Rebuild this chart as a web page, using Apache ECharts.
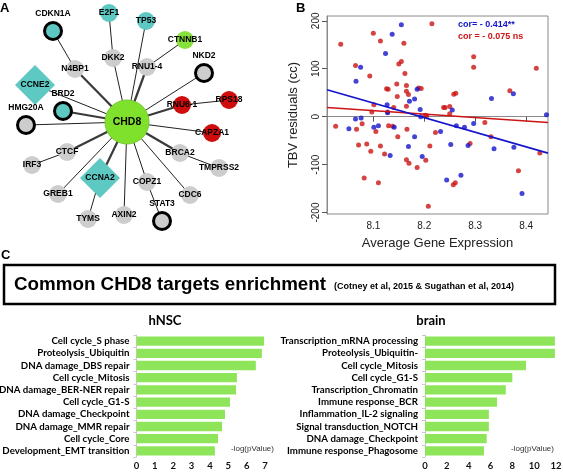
<!DOCTYPE html>
<html><head><meta charset="utf-8">
<script src="https://cdn.jsdelivr.net/npm/echarts@6/dist/echarts.min.js"></script>
<style>html,body{margin:0;padding:0;background:#fff}#c{width:563px;height:472px}</style>
</head><body><div id="c"></div><script>
// ---------- Panel A: network ----------
const geneNames = ['CHD8','CDKN1A','E2F1','TP53','CTNNB1','N4BP1','DKK2','RNU1-4','NKD2','CCNE2','BRD2','HMG20A','RNU6-1','RPS18','CAPZA1','IRF3','CTCF','GREB1','CCNA2','TYMS','AXIN2','COPZ1','CDC6','BRCA2','TMPRSS2','STAT3'];
const geneX = [127,53,109,146,185,75,113,147,204,35,63,26,182,229,212,32,67,58,100,88,124,147,190,180,219,162];
const geneY = [122,31,13,21,40,69,58,67,73,85,111,125,105,100,133,165,152,194,178,219,215,182,195,153,168,221];
const geneType = ['hub','tealRing','teal','teal','green','grey','grey','grey','greyRing','tealDiamond','tealRing','greyRing','red','red','red','grey','grey','grey','tealDiamond','grey','grey','grey','grey','grey','grey','greyRing'];
const edgeFrom = ['CHD8','N4BP1','CHD8','DKK2','CHD8','CHD8','RNU1-4','CHD8','CHD8','RNU6-1','CHD8','CHD8','CHD8','CHD8','CHD8','CTCF','CHD8','CHD8','CCNA2','CHD8','CHD8','COPZ1','CHD8','CHD8','BRCA2'];
const edgeTo   = ['N4BP1','CDKN1A','DKK2','E2F1','TP53','RNU1-4','CTNNB1','NKD2','RNU6-1','RPS18','CAPZA1','CCNE2','BRD2','HMG20A','CTCF','IRF3','GREB1','CCNA2','TYMS','AXIN2','COPZ1','STAT3','CDC6','BRCA2','TMPRSS2'];
const edgeMult = [2,1,1,1,1,2,1,1,2,1,1,1,2,1,2,1,1,2,1,1,1,1,1,2,1];

// ---------- Panel B: scatter ----------
const redX = [8.036,8.100,8.114,8.160,8.065,8.093,8.150,8.155,8.162,8.146,8.126,8.129,8.165,8.147,8.165,8.169,8.189,8.194,8.101,8.140,8.165,8.097,8.128,8.202,8.205,8.238,8.026,8.067,8.078,8.105,8.130,8.138,8.166,8.222,8.148,8.071,8.087,8.095,8.114,8.122,8.211,8.165,8.170,8.203,8.186,8.082,8.110,8.208,8.215,8.297,8.297,8.420,8.368,8.258,8.262,8.241,8.250,8.250,8.319,8.331,8.290,8.385,8.257,8.261,8.427];
const redY = [151,174,158,153,107,85,110,115,90,68,58,57,65,42,53,46,60,59,25,19,22,10,10,3,2,19,-20,-26,-15,-31,-19,-20,-26,-33,-42,-59,-57,-72,-61,-78,-61,-90,-97,-91,-106,-128,-138,-187,194,125,103,101,54,47,49,19,21,6,-12,-42,-56,-113,-142,-138,-76];
const blueX = [8.155,8.137,8.124,8.075,8.066,8.186,8.181,8.171,8.127,8.192,8.193,8.065,8.076,8.052,8.101,8.110,8.141,8.181,8.169,8.133,8.196,8.244,8.232,8.128,8.332,8.375,8.255,8.263,8.279,8.297,8.252,8.286,8.337,8.376,8.272,8.392,8.440];
const blueY = [192,172,132,103,74,57,37,32,25,15,0,-5,-3,-25,-22,-19,-22,-42,-62,-81,-83,-132,-31,8,38,48,14,-19,-22,-14,-58,-60,-67,-64,-122,-160,4];
const fitX = [8.009,8.443];
const blueFitY = [56,-76];
const redFitY = [19,-12];
const xTicks = [8.1,8.2,8.3,8.4];
const yTicks = [-200,-100,0,100,200];

// ---------- Panel C: bars ----------
const hnscTerms = ['Cell cycle_S phase','Proteolysis_Ubiquitin','DNA damage_DBS repair','Cell cycle_Mitosis','DNA damage_BER-NER repair','Cell cycle_G1-S','DNA damage_Checkpoint','DNA damage_MMR repair','Cell cycle_Core','Development_EMT transition'];
const hnscValues = [6.95,6.83,6.5,5.47,5.42,5.09,4.82,4.66,4.44,4.27];
const brainTerms = ['Transcription_mRNA processing','Proteolysis_Ubiquitin-','Cell cycle_Mitosis','Cell cycle_G1-S','Transcription_Chromatin','Immune response_BCR','Inflammation_IL-2 signaling','Signal transduction_NOTCH','DNA damage_Checkpoint','Immune response_Phagosome'];
const brainValues = [11.9,11.9,9.25,8.0,7.4,6.6,5.85,5.85,5.65,5.4];

const TEAL = '#5ec8c3', GREY = '#cdcdcd', RED = '#d00d0d', GREEN = '#86e23a', HUB = '#80e12c';
function nodeStyle(t){
  const lab = {show:true, position:'inside', color:'#000', fontWeight:'bold', fontSize:8.5, fontFamily:'Liberation Sans'};
  switch(t){
    case 'hub': return {symbolSize:44, itemStyle:{color:HUB, borderColor:'#74c92c', borderWidth:1}, label:Object.assign({}, lab, {fontSize:10.5})};
    case 'teal': return {symbolSize:18, itemStyle:{color:TEAL}, label:lab};
    case 'tealRing': return {symbolSize:17, itemStyle:{color:TEAL, borderColor:'#000', borderWidth:3}, label:Object.assign({}, lab, {position:'top', distance:3})};
    case 'tealDiamond': return {symbol:'diamond', symbolSize:40, itemStyle:{color:TEAL}, label:lab};
    case 'green': return {symbolSize:18, itemStyle:{color:GREEN}, label:lab};
    case 'grey': return {symbolSize:18, itemStyle:{color:GREY}, label:lab};
    case 'greyRing': return {symbolSize:17, itemStyle:{color:GREY, borderColor:'#000', borderWidth:3}, label:Object.assign({}, lab, {position:'top', distance:3})};
    case 'red': return {symbolSize:18, itemStyle:{color:RED}, label:lab};
  }
}
const nodes = geneNames.map((n,i)=>Object.assign({name:n, value:[geneX[i], geneY[i]]}, nodeStyle(geneType[i])));
const links = edgeFrom.map((f,i)=>({source:f, target:edgeTo[i], lineStyle:{width: edgeMult[i]>1?2.2:1, color: edgeMult[i]>1?'#3a3a3a':'#222'}}));

const catAxisCommon = {
  type:'category', inverse:true,
  axisLine:{show:true, lineStyle:{color:'#c8c8c8', width:1}},
  axisTick:{show:true, length:3, lineStyle:{color:'#c8c8c8'}},
  axisLabel:{interval:0, color:'#000', fontWeight:'bold', fontFamily:'Lato', fontSize:9.7, margin:7}
};
const valAxisCommon = {
  type:'value', splitLine:{show:false}, axisLine:{show:false}, axisTick:{show:false},
  axisLabel:{color:'#111', fontWeight:'bold', fontFamily:'Lato', fontSize:9.5, margin:4}
};

const chart = echarts.init(document.getElementById('c'), null, {renderer:'canvas'});
chart.setOption({
  animation:false,
  backgroundColor:'#fff',
  grid:[
    {left:327, top:16, width:221, height:198, show:true, borderColor:'#8a8a8a', borderWidth:1, backgroundColor:'transparent', containLabel:false, outerBoundsMode:'none'},
    {left:136.5, top:335, width:128.5, height:122, containLabel:false, outerBoundsMode:'none'},
    {left:425, top:335, width:131, height:122, containLabel:false, outerBoundsMode:'none'},
    {left:0, top:0, width:563, height:472, containLabel:false, outerBoundsMode:'none'}
  ],
  xAxis:[
    {type:'value', gridIndex:0, min:fitX[0], max:fitX[1], splitLine:{show:false},
      axisLine:{show:true, lineStyle:{color:'#8a8a8a'}},
      axisTick:{show:true, customValues:xTicks, length:5, lineStyle:{color:'#555'}},
      axisLabel:{customValues:xTicks, formatter:v=>v.toFixed(1), fontSize:10, color:'#222', margin:7, fontFamily:'Liberation Sans'},
      name:'Average Gene Expression', nameLocation:'middle', nameGap:23, nameTextStyle:{fontSize:13, color:'#222', fontFamily:'Liberation Sans'}},
    Object.assign({}, valAxisCommon, {gridIndex:1, min:0, max:7, interval:1}),
    Object.assign({}, valAxisCommon, {gridIndex:2, min:0, max:12, interval:2}),
    {type:'value', gridIndex:3, min:0, max:563, show:false}
  ],
  yAxis:[
    {type:'value', gridIndex:0, min:-203, max:210, splitLine:{show:false},
      axisLine:{show:true, lineStyle:{color:'#8a8a8a'}},
      axisTick:{show:true, customValues:yTicks, length:5, lineStyle:{color:'#555'}},
      axisLabel:{customValues:yTicks, rotate:90, fontSize:10, color:'#222', margin:6, fontFamily:'Liberation Sans'},
      name:'TBV residuals (cc)', nameLocation:'middle', nameGap:27, nameRotate:90, nameTextStyle:{fontSize:13, color:'#222', fontFamily:'Liberation Sans'}},
    Object.assign({}, catAxisCommon, {gridIndex:1, data:hnscTerms}),
    Object.assign({}, catAxisCommon, {gridIndex:2, data:brainTerms}),
    {type:'value', gridIndex:3, min:0, max:472, inverse:true, show:false}
  ],
  series:[
    {type:'scatter', xAxisIndex:0, yAxisIndex:0, symbolSize:5, itemStyle:{color:'#cc1414'}, data:redX.map((x,i)=>[x, redY[i]])},
    {type:'scatter', xAxisIndex:0, yAxisIndex:0, symbolSize:5, itemStyle:{color:'#1414cc'}, data:blueX.map((x,i)=>[x, blueY[i]])},
    {type:'line', xAxisIndex:0, yAxisIndex:0, symbol:'none', lineStyle:{color:'#cc1414', width:1.6}, data:fitX.map((x,i)=>[x, redFitY[i]])},
    {type:'line', xAxisIndex:0, yAxisIndex:0, symbol:'none', lineStyle:{color:'#1414cc', width:1.6}, data:fitX.map((x,i)=>[x, blueFitY[i]])},
    {type:'bar', xAxisIndex:1, yAxisIndex:1, data:hnscValues, barCategoryGap:'24%', itemStyle:{color:'#8fe55a'}},
    {type:'bar', xAxisIndex:2, yAxisIndex:2, data:brainValues, barCategoryGap:'24%', itemStyle:{color:'#8fe55a'}},
    {type:'graph', coordinateSystem:'cartesian2d', xAxisIndex:3, yAxisIndex:3, data:nodes, links:links, roam:false,
      emphasis:{disabled:true}, lineStyle:{opacity:1}, z:1}
  ],
  graphic:[
    {type:'text', left:0, top:2, style:{text:'A', font:'bold 13px Liberation Sans', fill:'#000'}},
    {type:'text', left:296, top:2, style:{text:'B', font:'bold 13px Liberation Sans', fill:'#000'}},
    {type:'text', left:1, top:249, style:{text:'C', font:'bold 13px Liberation Sans', fill:'#000'}},
    {type:'text', left:458, top:20, style:{text:'cor= - 0.414**', font:'bold 9px Liberation Sans', fill:'#1414cc'}},
    {type:'text', left:458, top:32, style:{text:'cor = - 0.075 ns', font:'bold 9px Liberation Sans', fill:'#cc1414'}},
    {type:'rect', shape:{x:4, y:265, width:551, height:39}, style:{fill:'none', stroke:'#000', lineWidth:2.5}},
    {type:'text', x:14, y:285, style:{text:'Common CHD8 targets enrichment', font:'bold 18.8px Liberation Sans', fill:'#000', textVerticalAlign:'middle'}},
    {type:'text', x:334, y:287, style:{text:'(Cotney et al, 2015 & Sugathan et al, 2014)', font:'bold 9px Liberation Sans', fill:'#000', textVerticalAlign:'middle'}},
    {type:'text', x:165, y:321, style:{text:'hNSC', font:'bold 13px Lato', fill:'#000', textAlign:'center', textVerticalAlign:'middle'}},
    {type:'text', x:431, y:321, style:{text:'brain', font:'bold 13px Lato', fill:'#000', textAlign:'center', textVerticalAlign:'middle'}},
    {type:'text', x:231, y:449, style:{text:'-log(pValue)', font:'8px Liberation Sans', fill:'#333', textVerticalAlign:'middle'}},
    {type:'text', x:511, y:449, style:{text:'-log(pValue)', font:'8px Liberation Sans', fill:'#333', textVerticalAlign:'middle'}}
  ]
});
</script></body></html>
